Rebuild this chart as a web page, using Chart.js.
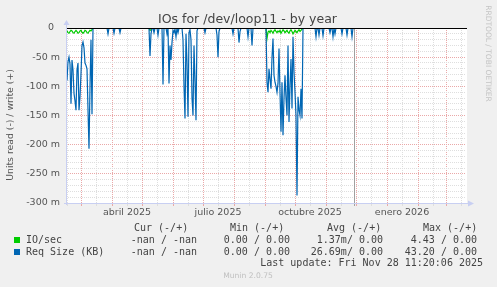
<!DOCTYPE html>
<html>
<head>
<meta charset="utf-8">
<title>IOs for /dev/loop11 - by year</title>
<script src="https://cdn.jsdelivr.net/npm/chart.js@4.4.1/dist/chart.umd.min.js"></script>
<style>
  body { margin: 0; background: #f0f0f0; }
  canvas { display: block; }
</style>
</head>
<body>
<canvas id="chart" width="497" height="287"></canvas>
<script>
// x = days counted from the left edge of the graph (14 feb 2025)
// y = read side (-), in milli units, as munin draws it
var reqDays = [1, 2, 3, 4, 5, 6, 7, 8, 9, 10, 11, 12, 13, 14, 15, 16, 17, 18, 19, 20, 21, 22, 23, 24, 25, 26, 27,
  41, 42, 43, 47, 48, 49, 53, 54, 55,
  83, 84, 85, 86, 87, 88, 89, 91, 92, 93, 96, 97, 98, 100, 101, 102, 103, 104, 105, 106, 107, 108, 109, 110, 111, 112, 113,
  116, 117, 118, 119, 120, 121, 122, 123, 124, 125, 126, 127, 128, 129, 130, 131, 132,
  138, 139, 140, 150, 151, 152, 153, 154, 166, 167, 168, 172, 173, 174, 175, 181, 182, 183, 185, 186, 187, 199,
  200, 201, 202, 203, 204, 205, 206, 207, 208, 209, 210, 211, 212, 213, 214, 215, 216, 217, 218,
  219, 220, 221, 222, 223, 224, 225, 226, 227, 228, 229, 230, 231, 232, 233, 234, 235, 236, 237,
  249, 250, 251, 252, 253, 254, 256, 257, 258, 263, 264, 265, 266, 267, 268, 269, 270, 275, 276, 277,
  280, 281, 282, 285, 286, 287];
var reqRead = [-90, -58, -50, -62, -130, -55, -72, -112, -125, -141, -72, -60, -141, -118, -78, -30, -24, -34, -60, -64, -70, -140, -207, -100, -20, -148, 0,
  0, -10, 0, 0, -9, 0, 0, -8, 0,
  0, -48, -10, 0, 0, -8, 0, 0, -12, 0, 0, -97, 0, 0, -10, 0, -95, -30, -55, -25, -4, -8, -2, -15, 0, -8, 0,
  0, -20, -100, -155, -10, -60, -152, -8, -3, -20, -120, -150, -30, -90, -158, -5, 0,
  0, -8, 0, 0, -12, -50, -6, 0, 0, -10, 0, 0, -25, -6, 0, 0, -15, 0, 0, -30, 0, 0,
  0, -93, -110, -70, -88, -104, -50, -18, -81, -93, -100, -110, -95, -35, -110, -178, -93, -184, -121,
  -81, -120, -150, -30, -161, -100, -53, -138, -15, -75, -110, -150, -287, -118, -140, -150, -104, -155, 0,
  0, -15, 0, 0, -12, 0, 0, -13, 0, 0, -8, 0, 0, -15, 0, -10, 0, 0, -10, 0,
  0, -12, 0, 0, -15, 0];

var ioDays = [1, 2, 3, 4, 5, 6, 7, 8, 9, 10, 11, 12, 13, 14, 15, 16, 17, 18, 19, 20, 21, 22, 23, 24, 25, 26, 27,
  83, 84, 85, 86,
  200, 201, 202, 203, 204, 205, 206, 207, 208, 209, 210, 211, 212, 213, 214, 215, 216, 217, 218,
  219, 220, 221, 222, 223, 224, 225, 226, 227, 228, 229, 230, 231, 232, 233, 234, 235, 236, 237, 287];
var ioRead = [-5, -8, -9, -6, -4, -5, -8, -9, -6, -4, -6, -9, -8, -5, -4, -7, -9, -7, -4, -5, -8, -9, -6, -4, -5, -3, 0,
  0, -4, -3, 0,
  0, -18, -7, -5, -8, -4, -6, -9, -5, -3, -6, -8, -5, -7, -4, -9, -6, -3, -5,
  -8, -6, -4, -7, -9, -5, -3, -6, -10, -7, -4, -6, -8, -5, -3, -6, -4, -2, 0, 0];

var monthDays = [15, 46, 76, 107, 137, 168, 199, 229, 260, 290, 321, 352, 380];
var midMonthDays = [1, 30, 61, 91, 122, 152, 183, 214, 244, 275, 305, 336, 367, 395];
var monthLabels = { 61: 'abril 2025', 152: 'julio 2025', 244: 'octubre 2025', 336: 'enero 2026' };
var lastUpdateDay = 288;
var dayRange = [0, 400];
var yRange = [-300, 0];

var legendHeader = ['Cur (-/+)', 'Min (-/+)', 'Avg (-/+)', 'Max (-/+)'];
var legendNames = ['IO/sec', 'Req Size (KB)'];
var legendColors = ['#00cc00', '#0066b3'];
var legendCur = ['-nan / -nan', '-nan / -nan'];
var legendMin = ['0.00 / 0.00', '0.00 / 0.00'];
var legendAvg = ['1.37m/ 0.00', '26.69m/ 0.00'];
var legendMax = ['4.43 / 0.00', '43.20 / 0.00'];

var majorGrid = '#eaa8a8';
var minorGrid = '#dedede';

function points(days, vals) {
  var out = [];
  for (var i = 0; i < days.length; i++) out.push({ x: days[i], y: vals[i] });
  return out;
}

var xTickDays = monthDays.concat(midMonthDays).sort(function (a, b) { return a - b; });

var munin = {
  id: 'munin',
  beforeDraw: function (chart) {
    var ctx = chart.ctx, a = chart.chartArea;
    ctx.save();
    ctx.fillStyle = '#f0f0f0';
    ctx.fillRect(0, 0, chart.width, chart.height);
    ctx.fillStyle = '#ffffff';
    ctx.fillRect(a.left, a.top, a.right - a.left + 1, a.bottom - a.top);
    ctx.restore();
  },
  beforeDatasetsDraw: function (chart) {
    var ctx = chart.ctx, a = chart.chartArea;
    var x = Math.round(chart.scales.x.getPixelForValue(lastUpdateDay)) + 0.5;
    ctx.save();
    ctx.strokeStyle = '#a0a0a0';
    ctx.lineWidth = 1;
    ctx.beginPath();
    ctx.moveTo(x, a.top);
    ctx.lineTo(x, a.bottom + 3);
    ctx.stroke();
    ctx.restore();
  },
  afterDatasetsDraw: function (chart) {
    var ctx = chart.ctx, a = chart.chartArea;
    var y0 = Math.round(chart.scales.y.getPixelForValue(0));
    ctx.save();
    // zero line
    ctx.fillStyle = '#000000';
    ctx.fillRect(a.left, y0, a.right - a.left + 1, 1);
    // axes with arrows
    ctx.strokeStyle = '#c8cff2';
    ctx.fillStyle = '#c8cff2';
    ctx.lineWidth = 1;
    ctx.beginPath();
    ctx.moveTo(a.left + 0.5, a.bottom + 2);
    ctx.lineTo(a.left + 0.5, a.top - 4);
    ctx.moveTo(a.left - 2, a.bottom + 0.5);
    ctx.lineTo(a.right + 4, a.bottom + 0.5);
    ctx.stroke();
    ctx.beginPath();
    ctx.moveTo(a.left - 2.5, a.top - 3);
    ctx.lineTo(a.left + 0.5, a.top - 8);
    ctx.lineTo(a.left + 3.5, a.top - 3);
    ctx.fill();
    ctx.beginPath();
    ctx.moveTo(a.right + 2, a.bottom - 2.5);
    ctx.lineTo(a.right + 8, a.bottom + 0.5);
    ctx.lineTo(a.right + 2, a.bottom + 3.5);
    ctx.fill();
    ctx.restore();
  },
  afterDraw: function (chart) {
    var ctx = chart.ctx;
    ctx.save();
    ctx.textBaseline = 'middle';

    ctx.fillStyle = '#444';
    ctx.font = '12.5px "DejaVu Sans"';
    ctx.textAlign = 'center';
    ctx.fillText('IOs for /dev/loop11 - by year', 247.5, 19.5);

    ctx.save();
    ctx.translate(10.5, 125);
    ctx.rotate(-Math.PI / 2);
    ctx.font = '9.3px "DejaVu Sans"';
    ctx.fillStyle = '#555';
    ctx.fillText('Units read (-) / write (+)', 0, 0);
    ctx.restore();

    ctx.save();
    ctx.translate(488, 53.5);
    ctx.rotate(Math.PI / 2);
    ctx.font = '7.5px "DejaVu Sans"';
    ctx.fillStyle = '#c4c4c4';
    ctx.fillText('RRDTOOL / TOBI OETIKER', 0, 0);
    ctx.restore();

    // legend table
    ctx.font = '10px "DejaVu Sans Mono"';
    ctx.fillStyle = '#444';
    ctx.textAlign = 'left';
    var hx = [134, 230, 327, 423];
    for (var h = 0; h < legendHeader.length; h++) ctx.fillText(legendHeader[h], hx[h], 228);
    var rowY = [240, 252];
    for (var r = 0; r < legendNames.length; r++) {
      ctx.fillStyle = legendColors[r];
      ctx.fillRect(14, rowY[r] - 3, 6, 6);
      ctx.fillStyle = '#444';
      ctx.textAlign = 'left';
      ctx.fillText(legendNames[r], 26, rowY[r]);
      ctx.textAlign = 'right';
      ctx.fillText(legendCur[r], 197, rowY[r]);
      ctx.fillText(legendMin[r], 290, rowY[r]);
      ctx.fillText(legendAvg[r], 383, rowY[r]);
      ctx.fillText(legendMax[r], 477, rowY[r]);
    }
    ctx.fillText('Last update: Fri Nov 28 11:20:06 2025', 483, 263.5);

    ctx.textAlign = 'center';
    ctx.font = '7.6px "DejaVu Sans"';
    ctx.fillStyle = '#c0c0c0';
    ctx.fillText('Munin 2.0.75', 248, 276);
    ctx.restore();
  }
};

Chart.defaults.font.family = '"DejaVu Sans"';
Chart.defaults.color = '#555';

var ctx = document.getElementById('chart');
var ioChart = new Chart(ctx, {
  type: 'line',
  data: {
    datasets: [{
      label: 'Req Size (KB)',
      data: points(reqDays, reqRead),
      borderColor: '#0066b3',
      borderWidth: 1.2,
      pointRadius: 0,
      tension: 0,
      fill: false,
      order: 0
    }, {
      label: 'IO/sec',
      data: points(ioDays, ioRead),
      borderColor: '#00cc00',
      borderWidth: 1.2,
      pointRadius: 0,
      tension: 0,
      fill: false,
      order: 1
    }]
  },
  options: {
    responsive: false,
    animation: false,
    layout: { padding: { left: 0, top: 28, right: 31, bottom: 64 } },
    plugins: { legend: { display: false }, tooltip: { enabled: false }, title: { display: false } },
    scales: {
      x: {
        type: 'linear',
        min: dayRange[0],
        max: dayRange[1],
        afterFit: function (s) { s.height = 20; },
        afterBuildTicks: function (s) {
          s.ticks = xTickDays.map(function (v) { return { value: v }; });
        },
        ticks: {
          autoSkip: false,
          maxRotation: 0,
          padding: 1,
          font: { size: 9.5 },
          callback: function (v) { return monthLabels[v] || ''; }
        },
        grid: {
          tickLength: 3,
          color: function (c) { return monthDays.indexOf(c.tick.value) >= 0 ? majorGrid : minorGrid; },
          tickColor: function (c) { return monthDays.indexOf(c.tick.value) >= 0 ? majorGrid : minorGrid; }
        },
        border: { display: false, dash: [1, 1] }
      },
      y: {
        type: 'linear',
        min: yRange[0],
        max: yRange[1],
        afterFit: function (s) { s.width = 66; },
        ticks: {
          stepSize: 10,
          autoSkip: false,
          padding: 6,
          font: { size: 9.5 },
          callback: function (v) {
            if (v % 50 !== 0) return '';
            return v === 0 ? '0  ' : v + ' m';
          }
        },
        grid: {
          drawTicks: false,
          color: function (c) {
            var v = c.tick.value;
            if (v === 0) return 'rgba(0,0,0,0)';
            return v % 50 === 0 ? majorGrid : minorGrid;
          }
        },
        border: { display: false, dash: [1, 1] }
      }
    }
  },
  plugins: [munin]
});
</script>
</body>
</html>
